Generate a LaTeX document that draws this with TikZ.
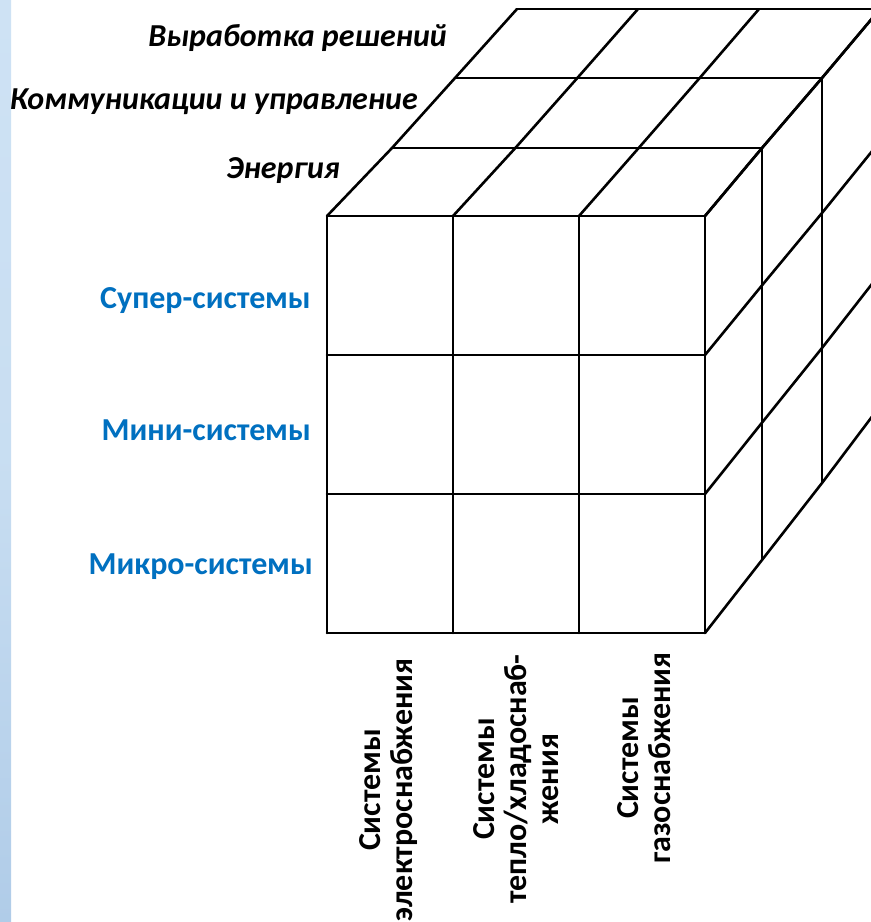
\documentclass[tikz,border=0pt]{standalone}
\usepackage{fontspec}
\setmainfont{Carlito}
\definecolor{levelblue}{RGB}{0,112,192}
\definecolor{stripA}{RGB}{206,226,244}
\definecolor{stripB}{RGB}{176,204,232}
\tikzset{
  edge/.style={line width=2.6pt, line cap=round, line join=round, black},
  layerlabel/.style={font=\fontsize{32}{34}\selectfont\bfseries\itshape, anchor=base east, inner sep=0pt},
  scalelabel/.style={font=\fontsize{32}{34}\selectfont\bfseries, text=levelblue, anchor=base east, inner sep=0pt},
  systemlabel/.style={font=\fontsize{32}{32}\selectfont\bfseries, rotate=90, align=center, inner sep=0pt},
}
\begin{document}
\begin{tikzpicture}[x=1pt, y=-1pt]
  \useasboundingbox (0,0) rectangle (871,922);
  \fill[white] (0,0) rectangle (871,922);
  % decorative strip on the left edge
  \shade[top color=stripA, bottom color=stripB, middle color=stripA!80!stripB] (0,0) rectangle (11,922);

  \begin{scope}
    \clip (0,0) rectangle (871,922);
    % depth layers: left x, right x, top y, bottom y
    \def\Ls{{327,392,455,517}}
    \def\Rs{{705,762,822,880}}
    \def\Ts{{216,148,78,9}}
    \def\Bs{{633,560,483,406}}
    % front face grid
    \foreach \i in {0,1,2,3} {
      \pgfmathsetmacro{\xx}{327+\i*(705-327)/3}
      \pgfmathsetmacro{\yy}{216+\i*(633-216)/3}
      \draw[edge] (\xx,216) -- (\xx,633);
      \draw[edge] (327,\yy) -- (705,\yy);
    }
    % top face: horizontal edges of each layer
    \foreach \k in {1,2,3} {
      \pgfmathsetmacro{\l}{\Ls[\k]}
      \pgfmathsetmacro{\r}{\Rs[\k]}
      \pgfmathsetmacro{\t}{\Ts[\k]}
      \draw[edge] (\l,\t) -- (\r,\t);
    }
    % top face: receding column lines
    \foreach \c in {0,1,2,3} {
      \pgfmathsetmacro{\ax}{\Ls[0]+\c*(\Rs[0]-\Ls[0])/3}
      \pgfmathsetmacro{\bx}{\Ls[1]+\c*(\Rs[1]-\Ls[1])/3}
      \pgfmathsetmacro{\cx}{\Ls[2]+\c*(\Rs[2]-\Ls[2])/3}
      \pgfmathsetmacro{\dx}{\Ls[3]+\c*(\Rs[3]-\Ls[3])/3}
      \draw[edge] (\ax,216) -- (\bx,148) -- (\cx,78) -- (\dx,9);
    }
    % right face: vertical edges of each layer
    \foreach \k in {1,2,3} {
      \pgfmathsetmacro{\r}{\Rs[\k]}
      \pgfmathsetmacro{\t}{\Ts[\k]}
      \pgfmathsetmacro{\b}{\Bs[\k]}
      \draw[edge] (\r,\t) -- (\r,\b);
    }
    % right face: receding row lines
    \foreach \rr in {0,1,2,3} {
      \pgfmathsetmacro{\ay}{\Ts[0]+\rr*(\Bs[0]-\Ts[0])/3}
      \pgfmathsetmacro{\by}{\Ts[1]+\rr*(\Bs[1]-\Ts[1])/3}
      \pgfmathsetmacro{\cy}{\Ts[2]+\rr*(\Bs[2]-\Ts[2])/3}
      \pgfmathsetmacro{\dy}{\Ts[3]+\rr*(\Bs[3]-\Ts[3])/3}
      \draw[edge] (705,\ay) -- (762,\by) -- (822,\cy) -- (880,\dy);
    }
  \end{scope}

  % depth-axis labels
  \node[layerlabel] (decide) at (447,46) {Выработка решений};
  \node[layerlabel] (comm)   at (418,109) {Коммуникации и управление};
  \node[layerlabel] (energy) at (340,178) {Энергия};

  % vertical-axis labels
  \node[scalelabel] (super) at (311,308) {Супер-системы};
  \node[scalelabel] (mini)  at (311,440) {Мини-системы};
  \node[scalelabel] (micro) at (313,574) {Микро-системы};

  % horizontal-axis labels
  \node[systemlabel] (elec) at (389,790) {Системы\\электроснабжения};
  \node[systemlabel] (heat) at (516,779) {Системы\\тепло/хладоснаб-\\жения};
  \node[systemlabel] (gas)  at (644,758) {Системы\\газоснабжения};
\end{tikzpicture}
\end{document}
